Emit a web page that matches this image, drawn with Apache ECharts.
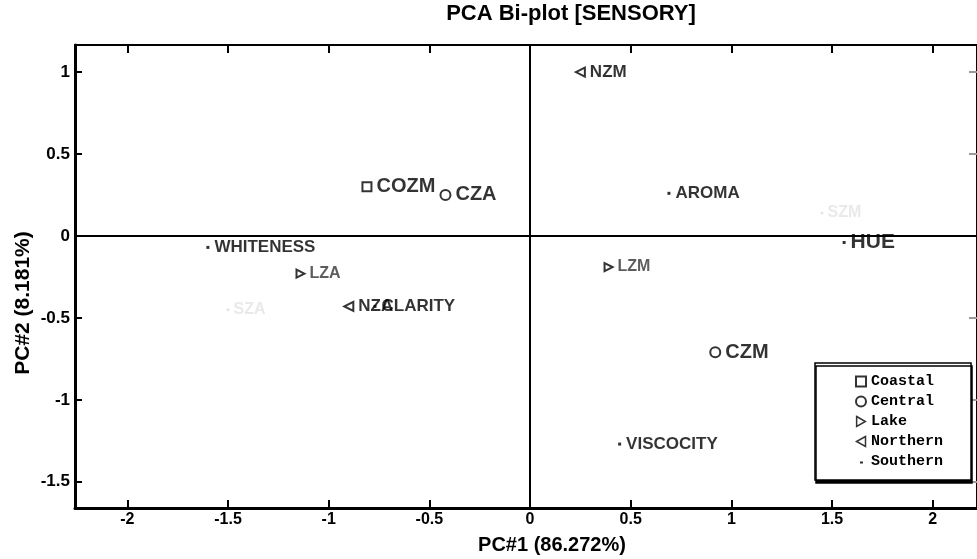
<!DOCTYPE html>
<html>
<head>
<meta charset="utf-8">
<script src="https://cdn.jsdelivr.net/npm/echarts@6/dist/echarts.min.js"></script>
<style>
html, body { margin: 0; padding: 0; background: #fff; }
#chart { width: 977px; height: 559px; }
</style>
</head>
<body>
<div id="chart"></div>
<script>
// Tick positions on both principal-component axes
const xTicks = [-2, -1.5, -1, -0.5, 0, 0.5, 1, 1.5, 2];
const yTicks = [-1.5, -1, -0.5, 0, 0.5, 1];

// Sample scores [PC1, PC2, name], grouped by region
const coastal  = [[-0.81, 0.30, 'COZM']];
const central  = [[-0.42, 0.25, 'CZA'], [0.92, -0.71, 'CZM']];
const lake     = [[-1.14, -0.23, 'LZA'], [0.39, -0.19, 'LZM']];
const northern = [[0.25, 1.00, 'NZM'], [-0.90, -0.43, 'NZA']];
const southern = [[1.45, 0.14, 'SZM'], [-1.50, -0.45, 'SZA']];

// Sensory attribute loadings [PC1, PC2, name]
const attributes = [
  [0.69, 0.26, 'AROMA'],
  [1.56, -0.04, 'HUE'],
  [-1.60, -0.07, 'WHITENESS'],
  [-0.77, -0.43, 'CLARITY'],
  [0.445, -1.27, 'VISCOCITY']
];

const SANS = 'Liberation Sans, Arial, sans-serif';
const MONO = 'Liberation Mono, Courier New, monospace';

const chart = echarts.init(document.getElementById('chart'), null, { renderer: 'canvas' });

function sampleSeries(name, data, symbol, size, rotate, labelColor, labelSize) {
  return {
    name: name,
    type: 'scatter',
    data: data,
    symbol: symbol,
    symbolSize: size,
    symbolRotate: rotate,
    itemStyle: { color: '#000', borderColor: '#000', borderWidth: 1.5 },
    label: {
      show: true,
      position: 'right',
      distance: 4,
      formatter: p => p.value[2],
      color: labelColor,
      fontFamily: SANS,
      fontWeight: 'bold',
      fontSize: labelSize
    },
    emphasis: { disabled: true },
    z: 5
  };
}

const attributeData = attributes.map(a => ({
  value: a,
  label: a[2] === 'HUE' ? { fontSize: 21 } : undefined
}));

const xRange = { min: -2.26, max: 2.22 };
const yRange = { min: -1.66, max: 1.165 };

const hollow = { color: '#fff', borderColor: '#000', borderWidth: 1.5 };

const option = {
  animation: false,
  backgroundColor: '#fff',
  grid: { left: 75, right: -4, top: 45, bottom: 51, containLabel: false },
  graphic: [
    {
      type: 'text', x: 571, y: 14,
      style: { text: 'PCA Bi-plot [SENSORY]', fill: '#000', font: 'bold 22px ' + SANS,
               textAlign: 'center', textVerticalAlign: 'middle' }
    },
    {
      type: 'text', x: 552, y: 545,
      style: { text: 'PC#1 (86.272%)', fill: '#000', font: 'bold 20px ' + SANS,
               textAlign: 'center', textVerticalAlign: 'middle' }
    },
    {
      type: 'text', x: 23, y: 303, rotation: Math.PI / 2,
      style: { text: 'PC#2 (8.181%)', fill: '#000', font: 'bold 21px ' + SANS,
               textAlign: 'center', textVerticalAlign: 'middle' }
    }
  ],
  legend: {
    orient: 'vertical',
    left: 815,
    top: 363,
    padding: [11, 28, 11, 40],
    itemGap: 5,
    itemWidth: 10,
    itemHeight: 10,
    backgroundColor: '#fff',
    borderColor: '#000',
    borderWidth: 1.5,
    shadowColor: '#000',
    shadowBlur: 0,
    shadowOffsetX: 1,
    shadowOffsetY: 3,
    selectedMode: false,
    textStyle: { fontFamily: MONO, fontWeight: 'bold', fontSize: 15, color: '#000' },
    data: [
      { name: 'Coastal' },
      { name: 'Central' },
      { name: 'Lake', icon: 'path://M2,1L9,5L2,9Z', itemStyle: hollow },
      { name: 'Northern', icon: 'path://M9,0L0,5L9,10Z', itemStyle: hollow },
      { name: 'Southern', icon: 'path://M0,0M10,10M4,5h3v2h-3z',
        itemStyle: { color: '#000', borderWidth: 0 } }
    ]
  },
  xAxis: [
    {
      type: 'value', position: 'bottom', ...xRange,
      axisLine: { show: true, onZero: false, lineStyle: { color: '#000', width: 3 } },
      axisTick: { show: true, inside: true, length: 8, customValues: xTicks,
                  lineStyle: { color: '#000', width: 2 } },
      axisLabel: { show: true, margin: 4, customValues: xTicks, color: '#000',
                   fontFamily: SANS, fontWeight: 'bold', fontSize: 16 },
      splitLine: { show: false }
    },
    {
      type: 'value', position: 'top', ...xRange,
      axisLine: { show: true, onZero: false, lineStyle: { color: '#000', width: 2 } },
      axisTick: { show: true, inside: true, length: 8, customValues: xTicks,
                  lineStyle: { color: '#000', width: 2 } },
      axisLabel: { show: false },
      splitLine: { show: false }
    }
  ],
  yAxis: [
    {
      type: 'value', position: 'left', ...yRange,
      axisLine: { show: true, onZero: false, lineStyle: { color: '#000', width: 3 } },
      axisTick: { show: true, inside: true, length: 7, customValues: yTicks,
                  lineStyle: { color: '#000', width: 2 } },
      axisLabel: { show: true, margin: 5, customValues: yTicks, color: '#000',
                   fontFamily: SANS, fontWeight: 'bold', fontSize: 17 },
      splitLine: { show: false }
    },
    {
      type: 'value', position: 'right', ...yRange,
      axisLine: { show: true, onZero: false, lineStyle: { color: '#000', width: 2 } },
      axisTick: { show: true, inside: true, length: 8, customValues: yTicks,
                  lineStyle: { color: '#999', width: 2 } },
      axisLabel: { show: false },
      splitLine: { show: false }
    }
  ],
  series: [
    sampleSeries('Coastal', coastal, 'emptyRect', 9, 0, '#000', 20),
    sampleSeries('Central', central, 'emptyCircle', 10, 0, '#000', 20),
    sampleSeries('Lake', lake, 'emptyTriangle', 8, -90, '#333', 16),
    sampleSeries('Northern', northern, 'emptyTriangle', 9, 90, '#000', 17),
    Object.assign(sampleSeries('Southern', southern, 'circle', 3, 0, '#000', 16), {
      label: {
        show: true, position: 'right', distance: 4, formatter: p => p.value[2],
        color: '#e4e4e4', fontFamily: SANS, fontWeight: 'bold', fontSize: 16
      },
      itemStyle: { color: '#ddd' }
    }),
    {
      name: 'Attributes',
      type: 'scatter',
      data: attributeData,
      symbol: 'rect',
      symbolSize: 3,
      itemStyle: { color: '#000' },
      label: {
        show: true, position: 'right', distance: 5,
        formatter: p => p.value[2],
        color: '#000', fontFamily: SANS, fontWeight: 'bold', fontSize: 17
      },
      emphasis: { disabled: true },
      markLine: {
        silent: true,
        symbol: 'none',
        label: { show: false },
        lineStyle: { color: '#000', width: 2, type: 'solid' },
        data: [{ xAxis: 0 }, { yAxis: 0 }]
      },
      z: 4
    }
  ]
};

chart.setOption(option);
</script>
</body>
</html>
